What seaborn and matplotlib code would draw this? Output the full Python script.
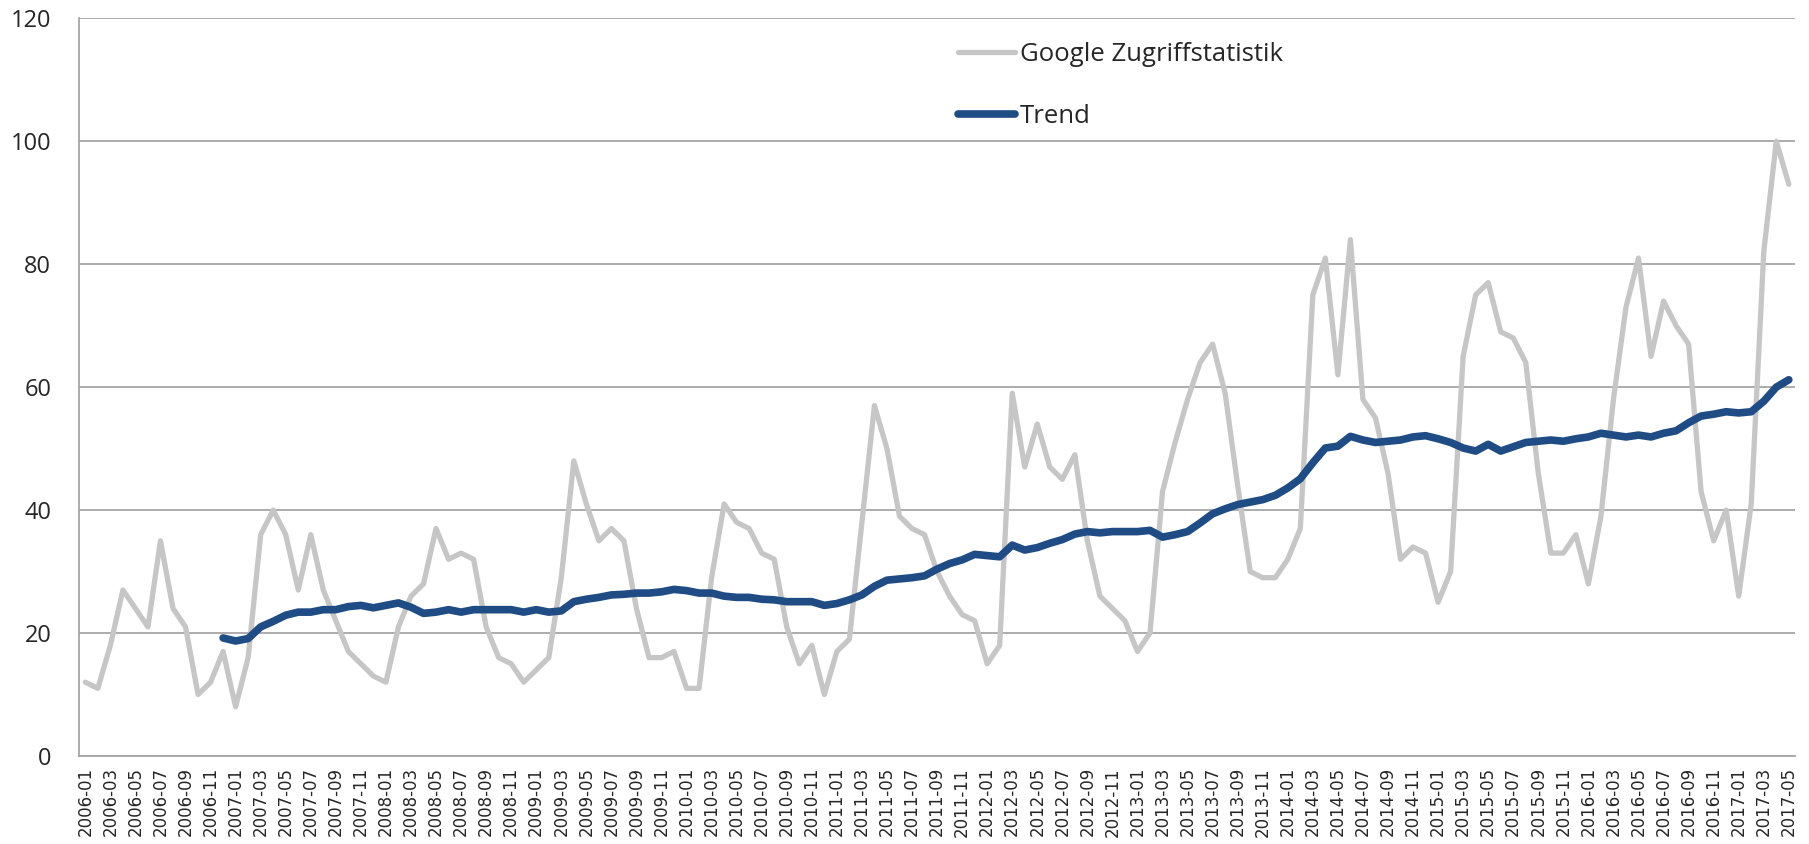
import pandas as pd
import numpy as np
import matplotlib
matplotlib.use('Agg')
import matplotlib.pyplot as plt
import seaborn as sns

# monthly values, 2006-01 .. 2017-05
months = pd.period_range('2006-01', '2017-05', freq='M').strftime('%Y-%m').tolist()

google = [12, 11, 18, 27, 24, 21, 35, 24, 21, 10, 12, 17,
          8, 16, 36, 40, 36, 27, 36, 27, 22, 17, 15, 13,
          12, 21, 26, 28, 37, 32, 33, 32, 21, 16, 15, 12,
          14, 16, 29, 48, 41, 35, 37, 35, 24, 16, 16, 17,
          11, 11, 29, 41, 38, 37, 33, 32, 21, 15, 18, 10,
          17, 19, 38, 57, 50, 39, 37, 36, 30, 26, 23, 22,
          15, 18, 59, 47, 54, 47, 45, 49, 35, 26, 24, 22,
          17, 20, 43, 51, 58, 64, 67, 59, 44, 30, 29, 29,
          32, 37, 75, 81, 62, 84, 58, 55, 46, 32, 34, 33,
          25, 30, 65, 75, 77, 69, 68, 64, 46, 33, 33, 36,
          28, 39, 58, 73, 81, 65, 74, 70, 67, 43, 35, 40,
          26, 41, 82, 100, 93]

# trend line starts at 2006-12
trend = [19.2,
         18.7, 19.1, 21.0, 21.9, 22.9, 23.4, 23.4, 23.8, 23.8, 24.3, 24.5, 24.1,
         24.5, 24.9, 24.2, 23.2, 23.4, 23.8, 23.4, 23.8, 23.8, 23.8, 23.8, 23.4,
         23.8, 23.4, 23.6, 25.1, 25.5, 25.8, 26.2, 26.3, 26.5, 26.5, 26.7, 27.1,
         26.9, 26.5, 26.5, 26.0, 25.8, 25.8, 25.5, 25.4, 25.1, 25.1, 25.1, 24.5,
         24.8, 25.4, 26.2, 27.6, 28.6, 28.8, 29.0, 29.3, 30.4, 31.3, 31.9, 32.8,
         32.6, 32.4, 34.3, 33.5, 33.9, 34.6, 35.2, 36.1, 36.5, 36.3, 36.5, 36.5,
         36.5, 36.7, 35.6, 36.0, 36.5, 37.9, 39.4, 40.2, 40.9, 41.3, 41.7, 42.4,
         43.6, 45.1, 47.7, 50.1, 50.4, 52.0, 51.4, 51.0, 51.2, 51.4, 51.9, 52.1,
         51.6, 51.0, 50.1, 49.6, 50.7, 49.6, 50.3, 51.0, 51.2, 51.4, 51.2, 51.6,
         51.9, 52.5, 52.2, 51.9, 52.2, 51.9, 52.5, 52.9, 54.2, 55.3, 55.6, 56.0,
         55.8, 56.0, 57.7, 60.0, 61.2]

df = pd.DataFrame({'idx': range(len(months)), 'value': google})
df_trend = pd.DataFrame({'idx': range(len(months) - len(trend), len(months)), 'value': trend})

sns.set_style('white')
plt.rcParams['font.family'] = ['Open Sans', 'DejaVu Sans']

fig = plt.figure(figsize=(18.09, 8.44), dpi=100)
ax = fig.add_axes([0.0437, 0.1043, 0.9486, 0.8740])

sns.lineplot(data=df, x='idx', y='value', ax=ax, color='#C6C6C6', linewidth=3.8,
             label='Google Zugriffstatistik')
sns.lineplot(data=df_trend, x='idx', y='value', ax=ax, color='#1F4C84', linewidth=5.5,
             label='Trend', solid_capstyle='round')

ax.set_xlim(-0.5, len(months) - 0.5)
ax.set_ylim(0, 120)
ax.set_yticks(range(0, 121, 20))
ax.yaxis.grid(True, color='#A6A6A6', linewidth=1.3)
ax.set_axisbelow(True)

# labels every 2 months, tick marks on category boundaries
ax.set_xticks(range(0, len(months), 2))
ax.set_xticklabels(months[::2], rotation=90, fontsize=12, family='DejaVu Sans')
ax.tick_params(axis='x', length=0, pad=8)
ax.set_xticks(np.arange(-0.5, len(months), 2), minor=True)
ax.tick_params(axis='x', which='minor', length=7, width=1.3, color='#A6A6A6', direction='out')
ax.tick_params(axis='y', labelsize=17, length=8, width=1.3, color='#A6A6A6', pad=12)
ax.set_xlabel('')
ax.set_ylabel('')

for s in ['top', 'right']:
    ax.spines[s].set_visible(False)
for s in ['left', 'bottom']:
    ax.spines[s].set_color('#A6A6A6')
    ax.spines[s].set_linewidth(1.3)

leg = ax.legend(loc='upper left', bbox_to_anchor=(958 / 1809, 1 - 42 / 844),
                bbox_transform=fig.transFigure, frameon=False, fontsize=18.5,
                handlelength=2.2, handletextpad=0.2, labelspacing=1.45,
                borderaxespad=0, borderpad=0)

fig.savefig('out.png', dpi=100)
